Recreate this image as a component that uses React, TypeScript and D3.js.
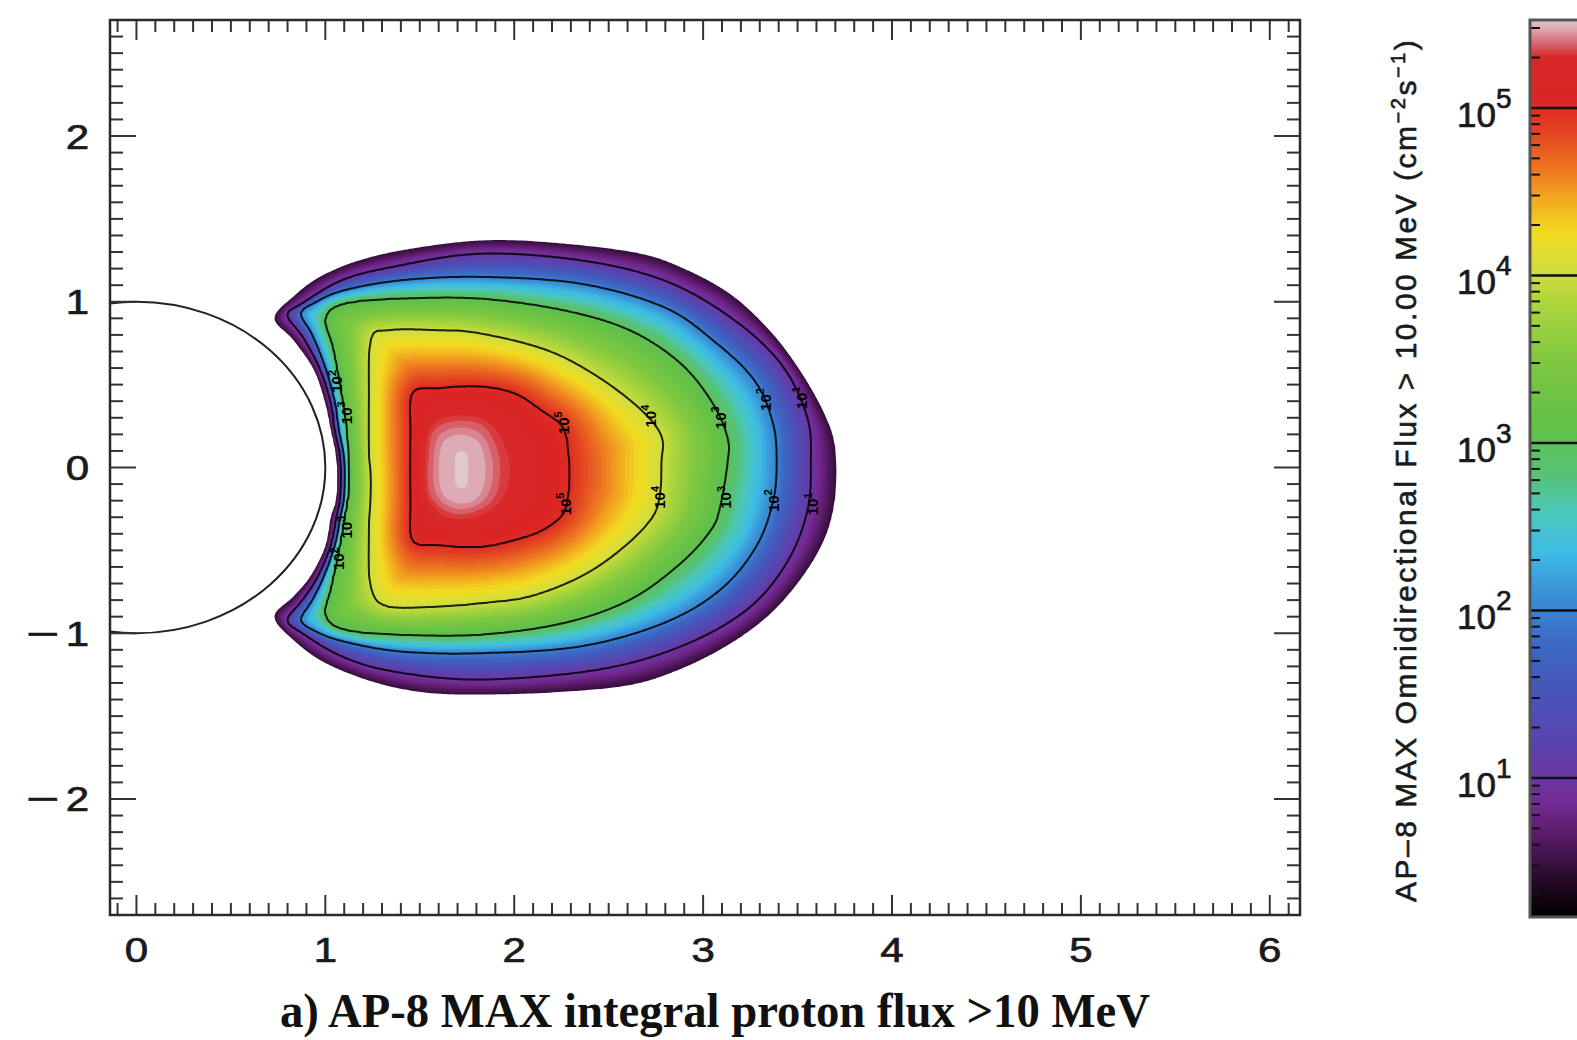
import React, { useMemo } from 'react';
import * as d3 from 'd3';

const W = 1577;
const H = 1040;

// contour boundaries, [x, z] in Earth radii
const EDGE = [
  [0.73, 0.90], [0.83, 1.03], [0.97, 1.15], [1.18, 1.25], [1.45, 1.32], [1.82, 1.37], [2.17, 1.36],
  [2.63, 1.30], [2.88, 1.21], [3.14, 1.05], [3.35, 0.83], [3.51, 0.59], [3.64, 0.33], [3.70, 0.12],
  [3.70, -0.18], [3.64, -0.44], [3.50, -0.70], [3.32, -0.92], [3.09, -1.10], [2.83, -1.24], [2.58, -1.32],
  [2.17, -1.36], [1.82, -1.37], [1.54, -1.36], [1.27, -1.30], [1.00, -1.18], [0.83, -1.04], [0.73, -0.90],
  [0.83, -0.78], [0.92, -0.66], [1.00, -0.48], [1.03, -0.30], [1.06, -0.18], [1.06, 0.05], [1.03, 0.23],
  [1.00, 0.39], [0.94, 0.59], [0.83, 0.77],
];
const LEVEL_1 = [
  [0.80, 0.92], [0.88, 0.99], [1.09, 1.13], [1.36, 1.21], [1.82, 1.29], [2.35, 1.25], [2.79, 1.13],
  [3.14, 0.91], [3.41, 0.63], [3.55, 0.31], [3.57, 0.03], [3.55, -0.27], [3.44, -0.58], [3.23, -0.86],
  [2.88, -1.08], [2.44, -1.22], [1.82, -1.28], [1.36, -1.23], [1.09, -1.14], [0.88, -1.00], [0.80, -0.92],
  [0.88, -0.80], [0.96, -0.66], [1.03, -0.47], [1.06, -0.30], [1.08, -0.17], [1.08, 0.05], [1.05, 0.23],
  [1.03, 0.39], [0.97, 0.60], [0.88, 0.79],
];
const LEVEL_2 = [
  [0.87, 0.93], [0.95, 1.00], [1.10, 1.07], [1.40, 1.13], [1.82, 1.15], [2.35, 1.11], [2.79, 0.97],
  [3.05, 0.77], [3.27, 0.53], [3.37, 0.27], [3.39, 0.03], [3.37, -0.21], [3.28, -0.48], [3.09, -0.74],
  [2.79, -0.94], [2.35, -1.08], [1.82, -1.12], [1.40, -1.11], [1.10, -1.05], [0.95, -0.99], [0.87, -0.92],
  [0.93, -0.80], [0.99, -0.66], [1.05, -0.47], [1.08, -0.30], [1.10, -0.17], [1.10, 0.05], [1.07, 0.23],
  [1.05, 0.39], [1.00, 0.60], [0.93, 0.80],
];
const LEVEL_3 = [
  [1.00, 0.90], [1.10, 0.99], [1.40, 1.02], [1.82, 1.02], [2.26, 0.95], [2.61, 0.83], [2.88, 0.63],
  [3.05, 0.39], [3.13, 0.18], [3.13, 0.03], [3.09, -0.24], [3.04, -0.38], [2.88, -0.58], [2.61, -0.80],
  [2.26, -0.94], [1.82, -1.01], [1.40, -1.01], [1.10, -0.98], [1.00, -0.89], [1.03, -0.72], [1.07, -0.50],
  [1.10, -0.30], [1.12, -0.15], [1.12, 0.05], [1.11, 0.25], [1.08, 0.47], [1.04, 0.72],
];
const LEVEL_4 = [
  [1.24, 0.77], [1.33, 0.83], [1.60, 0.83], [1.82, 0.81], [2.17, 0.71], [2.44, 0.55], [2.67, 0.35],
  [2.78, 0.19], [2.78, 0.03], [2.77, -0.18], [2.72, -0.32], [2.56, -0.50], [2.35, -0.66], [2.08, -0.78],
  [1.82, -0.82], [1.60, -0.84], [1.33, -0.84], [1.24, -0.72], [1.23, -0.40], [1.24, -0.10], [1.23, 0.10],
  [1.23, 0.40],
];
const LEVEL_5 = [
  [1.46, 0.45], [1.60, 0.48], [1.82, 0.49], [2.00, 0.45], [2.14, 0.35], [2.26, 0.24], [2.29, 0.06],
  [2.29, -0.14], [2.26, -0.28], [2.15, -0.38], [2.00, -0.44], [1.82, -0.48], [1.60, -0.47], [1.46, -0.44],
  [1.45, -0.20], [1.45, 0.20],
];
// pink core of the belt and its pale centre
const CORE = [
  [1.57, 0.23], [1.70, 0.29], [1.85, 0.25], [1.93, 0.05], [1.91, -0.17], [1.80, -0.27], [1.66, -0.28],
  [1.55, -0.17], [1.54, 0.05],
];
const CORE_PALE = [
  [1.62, 0.15], [1.72, 0.20], [1.82, 0.14], [1.85, -0.03], [1.81, -0.18], [1.71, -0.22], [1.62, -0.16],
  [1.60, -0.02],
];
const PEAK = [[1.72, 0.06], [1.72, -0.09]];

const RINGS = [EDGE, LEVEL_1, LEVEL_2, LEVEL_3, LEVEL_4, LEVEL_5, CORE, CORE_PALE];
const RING_LEVELS = [0.45, 1, 2, 3, 4, 5, 5.34, 5.45]; // log10 flux on each ring
const PEAK_LEVEL = 5.52;
const LINE_LEVELS = [1, 2, 3, 4, 5];

// contour labels: [level, x, z]
const LABELS = [
  [5, 2.26, 0.27], [5, 2.27, -0.22],
  [4, 2.72, 0.31], [4, 2.77, -0.18],
  [3, 3.09, 0.30], [3, 3.12, -0.18],
  [2, 3.33, 0.41], [2, 3.37, -0.20],
  [1, 3.52, 0.42], [1, 3.58, -0.22],
  [3, 1.11, 0.33], [3, 1.11, -0.36],
  [2, 1.06, 0.52], [2, 1.07, -0.55],
];

const X_TICKS = [0, 1, 2, 3, 4, 5, 6];
const Y_TICKS = [-2, -1, 0, 1, 2];
const CBAR_DECADES = [1, 2, 3, 4, 5];
const CBAR_LOG_RANGE = [0.17, 5.525];

// IDL rainbow + white, by log10 flux
const CMAP_STOPS = [0.17, 0.35, 0.5, 0.65, 0.85, 1.0, 1.2, 1.5, 1.8, 2.1, 2.35, 2.6, 2.8, 3.1, 3.5, 3.85, 4.05,
  4.25, 4.45, 4.62, 4.85, 5.05, 5.3, 5.4, 5.47, 5.525];
const CMAP_COLORS = ['#000000', '#1e0820', '#3c1044', '#581a66', '#742a94', '#6c36a4', '#5c42ae', '#4854b8',
  '#3c68c4', '#3a90d6', '#3ebce6', '#4cc8b8', '#56c278', '#62c048', '#80c840', '#b0d63c', '#d4de3c',
  '#f2dc20', '#f2aa20', '#ee7a20', '#e44622', '#dc2424', '#d82828', '#d8707c', '#dca8b2', '#e0c8ce'];

const SANS = "'Liberation Sans', Arial, Helvetica, sans-serif";
const SERIF = "'Liberation Serif', 'Times New Roman', serif";

function segDist(px: number, py: number, a: number[], b: number[]) {
  const dx = b[0] - a[0], dy = b[1] - a[1];
  const l2 = dx * dx + dy * dy;
  let t = l2 ? ((px - a[0]) * dx + (py - a[1]) * dy) / l2 : 0;
  t = Math.max(0, Math.min(1, t));
  const ex = a[0] + t * dx - px, ey = a[1] + t * dy - py;
  return Math.sqrt(ex * ex + ey * ey);
}

function ringDist(ring: number[][], px: number, py: number) {
  let m = Infinity;
  for (let i = 0; i < ring.length; i++) {
    const d = segDist(px, py, ring[i], ring[(i + 1) % ring.length]);
    if (d < m) m = d;
  }
  return m;
}

// closed catmull-rom outline through the read points, for drawing only
function smoothRing(ring: number[][], sub = 6) {
  const n = ring.length;
  const out: [number, number][] = [];
  for (let i = 0; i < n; i++) {
    const p0 = ring[(i - 1 + n) % n], p1 = ring[i], p2 = ring[(i + 1) % n], p3 = ring[(i + 2) % n];
    for (let s = 0; s < sub; s++) {
      const t = s / sub, t2 = t * t, t3 = t2 * t;
      const f = (a: number, b: number, c: number, d: number) =>
        0.5 * (2 * b + (-a + c) * t + (2 * a - 5 * b + 4 * c - d) * t2 + (-a + 3 * b - 3 * c + d) * t3);
      out.push([f(p0[0], p1[0], p2[0], p3[0]), f(p0[1], p1[1], p2[1], p3[1])]);
    }
  }
  return out;
}

export default function App() {
  const xs = d3.scaleLinear().domain([-0.14, 6.16]).range([110, 1300]);
  const ys = d3.scaleLinear().domain([-2.7, 2.7]).range([915, 20]);
  const cmap = d3.scaleLinear<string>().domain(CMAP_STOPS).range(CMAP_COLORS).clamp(true);
  const cb = d3.scaleLinear().domain(CBAR_LOG_RANGE).range([917, 20]);

  const field = useMemo(() => {
    const polys = RINGS.map(r => smoothRing(r.map(([x, z]) => [xs(x), ys(z)])));
    const peak = PEAK.map(([x, z]) => [xs(x), ys(z)]);
    const step = 2;
    const gx0 = xs(0.66), gy0 = ys(1.44);
    const nx = Math.ceil((xs(3.76) - gx0) / step);
    const ny = Math.ceil((ys(-1.44) - gy0) / step);
    const values = new Float64Array(nx * ny);
    for (let j = 0; j < ny; j++) {
      for (let i = 0; i < nx; i++) {
        const px = gx0 + i * step, py = gy0 + j * step;
        let k = -1;
        for (let m = polys.length - 1; m >= 0; m--) {
          if (d3.polygonContains(polys[m], [px, py])) { k = m; break; }
        }
        let v: number;
        if (k < 0) {
          v = RING_LEVELS[0] - ringDist(polys[0], px, py) * 0.05;
        } else if (k === polys.length - 1) {
          const d = ringDist(polys[k], px, py);
          const dp = segDist(px, py, peak[0], peak[1]);
          v = RING_LEVELS[k] + (PEAK_LEVEL - RING_LEVELS[k]) * d / (d + dp + 1e-9);
        } else {
          const d = ringDist(polys[k], px, py);
          const dn = ringDist(polys[k + 1], px, py);
          v = RING_LEVELS[k] + (RING_LEVELS[k + 1] - RING_LEVELS[k]) * d / (d + dn + 1e-9);
        }
        values[i + j * nx] = v;
      }
    }
    const thresholds = d3.range(0, 102).map(i => RING_LEVELS[0] + i * 0.05);
    const bands = d3.contours().size([nx, ny]).thresholds(thresholds)(values as any);
    const lines = d3.contours().size([nx, ny]).thresholds(LINE_LEVELS)(values as any);
    const proj = d3.geoTransform({
      point(x: number, y: number) {
        (this as any).stream.point(gx0 + (x - 0.5) * step, gy0 + (y - 0.5) * step);
      },
    });
    const path = d3.geoPath(proj);
    return {
      bands: bands.map(b => ({ d: path(b as any) || '', value: b.value })),
      lines: lines.map(b => ({ d: path(b as any) || '', value: b.value })),
    };
  }, []);

  const xMinor = d3.range(-1, 62).map(i => i / 10);
  const yMinor = d3.range(-26, 27).map(i => i / 10);
  const isMajor = (v: number) => Math.abs(v - Math.round(v)) < 1e-6;

  const cbMinor: number[] = [];
  for (let d = 0; d <= 5; d++) {
    for (let m = 2; m <= 9; m++) {
      const lv = d + Math.log10(m);
      if (lv > CBAR_LOG_RANGE[0] && lv < CBAR_LOG_RANGE[1]) cbMinor.push(lv);
    }
  }
  const [lo, hi] = CBAR_LOG_RANGE;

  const plotL = xs.range()[0], plotR = xs.range()[1];
  const plotT = ys.range()[1], plotB = ys.range()[0];
  const ink = { fill: '#1a1a1a', stroke: '#1a1a1a', strokeWidth: 0.7 };

  return (
    <svg width={W} height={H} style={{ position: 'absolute', left: 0, top: 0, background: '#fff' }}>
      <defs>
        <clipPath id="plotClip">
          <rect x={plotL} y={plotT} width={plotR - plotL} height={plotB - plotT} />
        </clipPath>
        <linearGradient id="cbarGrad" x1="0" y1="1" x2="0" y2="0">
          {CMAP_STOPS.map((s, i) => (
            <stop key={i} offset={(s - lo) / (hi - lo)} stopColor={CMAP_COLORS[i]} />
          ))}
        </linearGradient>
      </defs>
      <rect x={0} y={0} width={W} height={H} fill="#fff" />

      {/* filled flux map */}
      <g clipPath="url(#plotClip)">
        {field.bands.map((b, i) => (
          <path key={i} d={b.d} fill={cmap(b.value + 0.025)} stroke="none" />
        ))}
        {field.lines.map((b, i) => (
          <path key={i} d={b.d} fill="none" stroke="#000" strokeOpacity={0.85} strokeWidth={2} />
        ))}
        <ellipse cx={xs(0)} cy={ys(0)} rx={xs(1) - xs(0)} ry={ys(0) - ys(1)}
          fill="none" stroke="#222" strokeWidth={2} />
      </g>

      {/* contour labels */}
      {LABELS.map(([lv, x, z], i) => (
        <g key={i} transform={`translate(${xs(x)},${ys(z)}) rotate(-90)`}>
          <text textAnchor="middle" dominantBaseline="central" fontFamily={SANS} fontSize={15}
            fontWeight="bold" fill="#000">
            10<tspan dy={-5} fontSize={11}>{lv}</tspan>
          </text>
        </g>
      ))}

      {/* frame and ticks */}
      <g stroke="#333" strokeWidth={2}>
        {xMinor.map((v, i) => {
          const x = xs(v);
          const len = isMajor(v) ? 20 : 12;
          return (
            <g key={i}>
              <line x1={x} x2={x} y1={plotB} y2={plotB - len} />
              <line x1={x} x2={x} y1={plotT} y2={plotT + len} />
            </g>
          );
        })}
        {yMinor.map((v, i) => {
          const y = ys(v);
          const len = isMajor(v) ? 26 : 13;
          return (
            <g key={i}>
              <line x1={plotL} x2={plotL + len} y1={y} y2={y} />
              <line x1={plotR} x2={plotR - len} y1={y} y2={y} />
            </g>
          );
        })}
      </g>
      <rect x={plotL} y={plotT} width={plotR - plotL} height={plotB - plotT}
        fill="none" stroke="#2a2a2a" strokeWidth={2.5} />

      {X_TICKS.map(v => (
        <text key={v} transform={`translate(${xs(v)},962) scale(1.2,1)`} textAnchor="middle"
          fontFamily={SANS} fontSize={35} {...ink}>
          {v}
        </text>
      ))}
      {Y_TICKS.map(v => (
        <g key={v}>
          <text transform={`translate(89,${ys(v) + 12.5}) scale(1.2,1)`} textAnchor="end"
            fontFamily={SANS} fontSize={35} {...ink}>
            {Math.abs(v)}
          </text>
          {v < 0 && (
            <text x={26} y={ys(v) + 12.5} fontFamily={SANS} fontSize={35} textLength={33}
              lengthAdjust="spacingAndGlyphs" {...ink}>−</text>
          )}
        </g>
      ))}

      {/* colour bar */}
      <rect x={1530} y={cb(hi)} width={70} height={cb(lo) - cb(hi)} fill="url(#cbarGrad)" />
      {CBAR_DECADES.map(d => (
        <line key={d} x1={1530} x2={1600} y1={cb(d)} y2={cb(d)} stroke="#111" strokeWidth={2.5} />
      ))}
      {cbMinor.map((lv, i) => (
        <line key={i} x1={1531} x2={1540} y1={cb(lv)} y2={cb(lv)} stroke="#111" strokeWidth={2} />
      ))}
      <rect x={1530} y={cb(hi)} width={70} height={cb(lo) - cb(hi)} fill="none" stroke="#555" strokeWidth={3} />
      {CBAR_DECADES.map(d => (
        <text key={d} x={1457} y={cb(d) + 19} fontFamily={SANS} fontSize={35} {...ink}>
          10<tspan dy={-19} fontSize={28}>{d}</tspan>
        </text>
      ))}
      <text transform="translate(1416,902) rotate(-90)" fontFamily={SANS} fontSize={30} {...ink}
        strokeWidth={0.6} letterSpacing={2.5}>
        AP–8 MAX Omnidirectional Flux &gt; 10.00 MeV (cm<tspan dy={-11} fontSize={20}>−2</tspan>
        <tspan dy={11}>s</tspan><tspan dy={-11} fontSize={20}>−1</tspan><tspan dy={11}>)</tspan>
      </text>

      {/* caption */}
      <text x={715} y={1027} textAnchor="middle" fontFamily={SERIF} fontWeight="bold" fontSize={48}
        fill="#111" textLength={870} lengthAdjust="spacingAndGlyphs">
        a) AP-8 MAX integral proton flux &gt;10 MeV
      </text>
    </svg>
  );
}
